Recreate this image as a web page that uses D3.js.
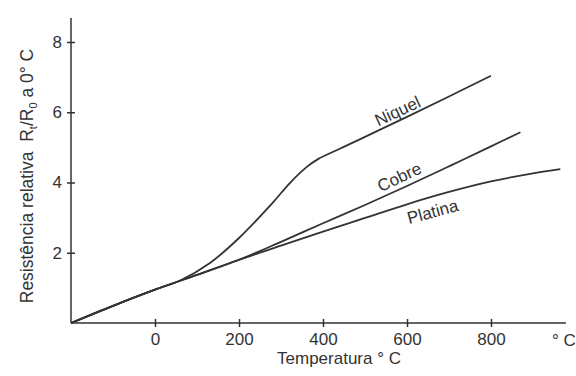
<!DOCTYPE html>
<html>
<head>
<meta charset="utf-8">
<script src="https://cdn.jsdelivr.net/npm/d3@7"></script>
<style>
  body { margin: 0; background: #fff; }
  text { font-family: 'Liberation Sans', Arial, sans-serif; fill: #333; }
</style>
</head>
<body>
<svg id="chart" width="576" height="376"></svg>
<script>
// temperatures (deg C) and relative resistance
const niquelTemp = [-200, -100, 0, 60, 130, 200, 280, 320, 360, 390, 440, 500, 600, 700, 800];
const niquelRes = [0, 0.49, 0.95, 1.21, 1.7, 2.42, 3.42, 3.97, 4.43, 4.68, 4.96, 5.3, 5.87, 6.45, 7.04];

const cobreTemp = [-200, -100, 0, 100, 200, 300, 400, 500, 600, 700, 800, 870];
const cobreRes = [0, 0.49, 0.95, 1.37, 1.8, 2.31, 2.84, 3.36, 3.9, 4.46, 5.03, 5.43];

const platinaTemp = [-200, -100, 0, 100, 200, 300, 400, 500, 600, 700, 800, 900, 965];
const platinaRes = [0, 0.49, 0.95, 1.37, 1.8, 2.2, 2.6, 2.99, 3.38, 3.73, 4.03, 4.26, 4.38];

const xTicks = [0, 200, 400, 600, 800];
const yTicks = [2, 4, 6, 8];

// curve labels: name, temperature, resistance, rotation
const curveLabels = [
  { name: 'Niquel', t: 579, r: 6.0, angle: -25 },
  { name: 'Cobre', t: 583, r: 4.12, angle: -25 },
  { name: 'Platina', t: 662, r: 3.13, angle: -15 }
];

const svg = d3.select('#chart');
const ink = '#333';

const x = d3.scaleLinear().domain([-200, 800]).range([71, 491]);
const y = d3.scaleLinear().domain([0, 8]).range([323, 42]);

// axes
const xAxis = d3.axisBottom(x).tickValues(xTicks).tickSize(4).tickSizeOuter(0).tickPadding(6);
const gx = svg.append('g').attr('transform', `translate(0, ${y(0)})`).call(xAxis);
gx.select('.domain').attr('d', `M${x(-200)},0H566`).attr('stroke', ink).attr('stroke-width', 1.5);
gx.selectAll('.tick line').attr('y1', -4).attr('stroke', ink).attr('stroke-width', 1.5);
gx.selectAll('.tick text').attr('font-size', 17).attr('fill', ink);

const yAxis = d3.axisLeft(y).tickValues(yTicks).tickSize(4).tickSizeOuter(0).tickPadding(5);
const gy = svg.append('g').attr('transform', `translate(${x(-200)}, 0)`).call(yAxis);
gy.select('.domain').attr('d', `M0,${y(0)}V18`).attr('stroke', ink).attr('stroke-width', 1.5);
gy.selectAll('.tick line').attr('x1', 4).attr('stroke', ink).attr('stroke-width', 1.5);
gy.selectAll('.tick text').attr('font-size', 17).attr('fill', ink);
svg.selectAll('.tick text').attr('font-family', "'Liberation Sans', Arial, sans-serif");

// unit at the end of the x axis
svg.append('text')
  .attr('x', 552)
  .attr('y', 346)
  .attr('font-size', 17)
  .text('° C');

// axis titles
svg.append('text')
  .attr('x', 339)
  .attr('y', 364)
  .attr('text-anchor', 'middle')
  .attr('font-size', 17)
  .text('Temperatura ° C');

const yTitle = svg.append('text')
  .attr('transform', 'translate(33, 176) rotate(-90)')
  .attr('text-anchor', 'middle')
  .attr('font-size', 17.5);
yTitle.append('tspan').text('Resistência relativa\u00a0\u00a0R');
yTitle.append('tspan').attr('font-size', 11).attr('dy', 4).text('t');
yTitle.append('tspan').attr('dy', -4).text('/R');
yTitle.append('tspan').attr('font-size', 11).attr('dy', 4).text('0');
yTitle.append('tspan').attr('dy', -4).text(' a 0° C');

// curves
const line = d3.line()
  .x((d) => x(d[0]))
  .y((d) => y(d[1]))
  .curve(d3.curveCatmullRom.alpha(0.5));

const series = [
  d3.zip(niquelTemp, niquelRes),
  d3.zip(cobreTemp, cobreRes),
  d3.zip(platinaTemp, platinaRes)
];

svg.append('g')
  .selectAll('path')
  .data(series)
  .enter()
  .append('path')
  .attr('d', line)
  .attr('fill', 'none')
  .attr('stroke', ink)
  .attr('stroke-width', 1.8);

// curve names
svg.append('g')
  .selectAll('text')
  .data(curveLabels)
  .enter()
  .append('text')
  .attr('transform', (d) => `translate(${x(d.t)}, ${y(d.r)}) rotate(${d.angle})`)
  .attr('text-anchor', 'middle')
  .attr('dominant-baseline', 'middle')
  .attr('font-size', 17)
  .text((d) => d.name);
</script>
</body>
</html>
